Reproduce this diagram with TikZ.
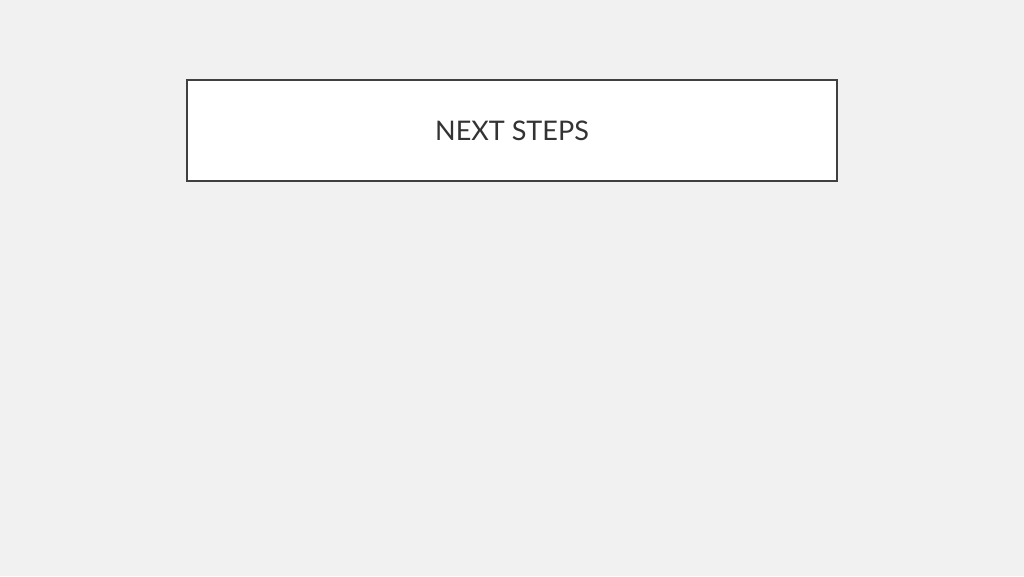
\documentclass[tikz,border=0pt]{standalone}
\usepackage{fontspec}
\setmainfont{Lato}
\definecolor{bg}{HTML}{F1F1F1}
\definecolor{ink}{HTML}{404040}
\begin{document}
\begin{tikzpicture}[x=1pt,y=-1pt,
  titlebox/.style={draw=ink,line width=2.5pt,fill=white,minimum width=650pt,minimum height=101pt,inner sep=0pt,
    font=\fontsize{27}{30}\selectfont,text=ink!80!black}]
\fill[bg] (0,0) rectangle (1024,576);
\useasboundingbox (0,0) rectangle (1024,576);
\node[titlebox] (title) at (512,130.5) {NEXT STEPS};
\end{tikzpicture}
\end{document}
